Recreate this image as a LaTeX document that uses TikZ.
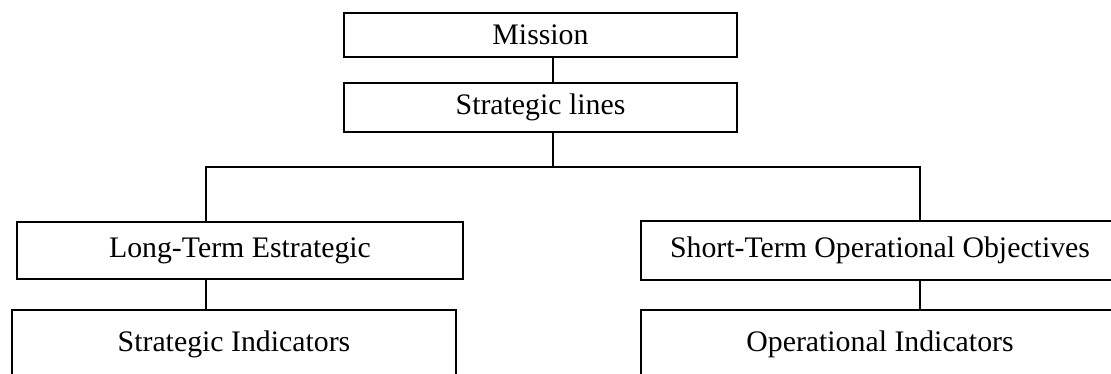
\documentclass[tikz,border=0pt]{standalone}
\usepackage{fontspec}
\setmainfont{Liberation Serif}
\begin{document}
\begin{tikzpicture}[x=1pt,y=-1pt,
  box/.style={draw=black, line width=2pt, fill=white, inner sep=0pt, font=\fontsize{29.8}{31}\selectfont},
  conn/.style={draw=black, line width=2pt}]
\useasboundingbox (0,0) rectangle (1111,373);
\clip (0,0) rectangle (1111,373);
\node[box, minimum width=393pt, minimum height=44pt] (mission) at (540.5,35) {Mission};
\node[box, minimum width=393pt, minimum height=49pt] (lines) at (540.5,107.5) {Strategic lines};
\node[box, minimum width=446pt, minimum height=57pt] (lt) at (240,250.5) {Long-Term Estrategic};
\node[box, minimum width=478pt, minimum height=59pt] (st) at (880,250.5) {Short-Term Operational Objectives};
\node[box, minimum width=444pt, minimum height=68pt] (si) at (234,344) {Strategic Indicators};
\node[box, minimum width=478pt, minimum height=68pt] (oi) at (880,344) {Operational Indicators};
\coordinate (bj) at (553,167);
\coordinate (lx) at (206,0);
\coordinate (rx) at (920,0);
\draw[conn] (mission.south -| bj) -- (lines.north -| bj);
\draw[conn] (lines.south -| bj) -- (bj);
\draw[conn] (lt.north -| lx) |- (bj) -| (st.north -| rx);
\draw[conn] (lt.south -| lx) -- (si.north -| lx);
\draw[conn] (st.south -| rx) -- (oi.north -| rx);
\end{tikzpicture}
\end{document}
